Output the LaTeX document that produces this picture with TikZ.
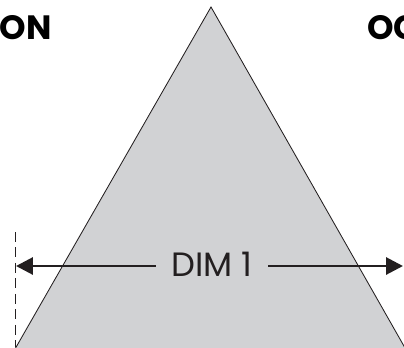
\documentclass[tikz,border=0pt]{standalone}
\usepackage{fontspec}
\setmainfont{Poppins}
\usetikzlibrary{arrows.meta}
\definecolor{shapegray}{HTML}{D1D2D4}
\definecolor{inkdark}{HTML}{231F20}

\begin{document}
\begin{tikzpicture}[x=0.25mm, y=-0.25mm,
    dimarrow/.style={line width=2.1pt, color=inkdark, -{Triangle[length=12pt, width=12pt]}},
    dimlabel/.style={inner xsep=11pt, inner ysep=2pt, font=\fontsize{24pt}{26pt}\selectfont, text=inkdark},
    heading/.style={inner sep=0pt, font=\fontsize{24pt}{26pt}\selectfont\bfseries}]
    \useasboundingbox (0, 0) rectangle (404, 347);
    \clip (0, 0) rectangle (404, 347);
    % triangle
    \coordinate (apex) at (211, 7);
    \coordinate (baseL) at (8.7, 360);
    \coordinate (baseR) at (411.9, 360);
    \draw[fill=shapegray, draw=inkdark, line width=0.6pt, line join=miter] (baseL) -- (apex) -- (baseR) -- cycle;
    % headings
    \node[heading, anchor=base east] (leftname) at (52, 39) {GON};
    \node[heading, anchor=base west] (rightname) at (367, 39) {OC};
    % dimension
    \draw[inkdark, line width=0.7pt, dash pattern=on 7pt off 4pt] (15, 232) -- (15, 347);
    \node[dimlabel] (dim) at (212, 264) {DIM 1};
    \coordinate (lefttip) at (16, 266);
    \coordinate (righttip) at (403, 266);
    \draw[dimarrow] (dim.west |- lefttip) -- (lefttip);
    \draw[dimarrow] (dim.east |- righttip) -- (righttip);
\end{tikzpicture}
\end{document}
